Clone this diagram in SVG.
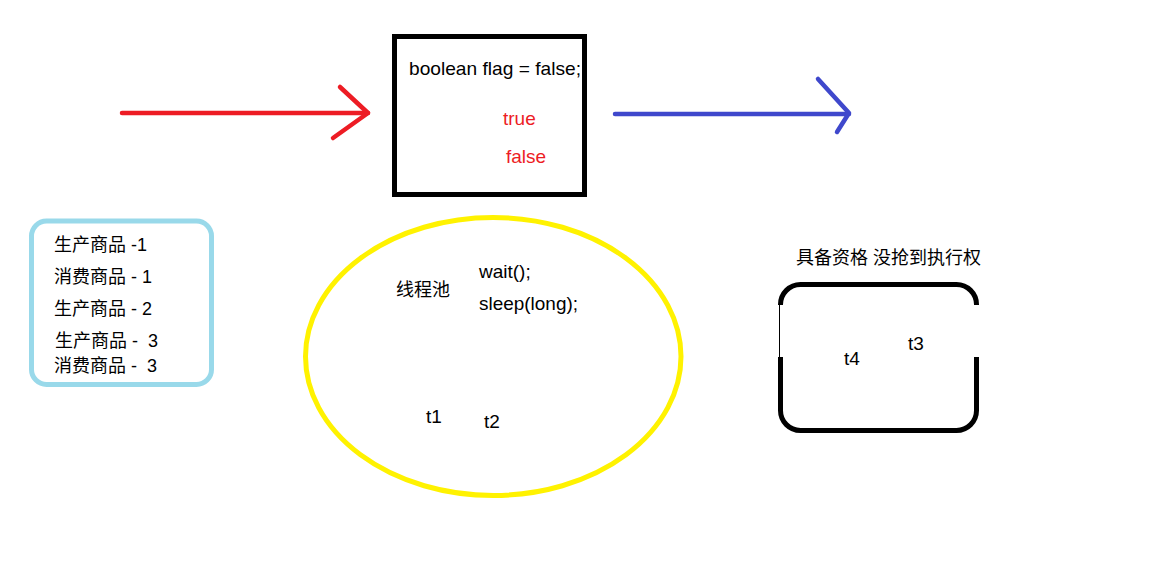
<svg xmlns="http://www.w3.org/2000/svg" width="1176" height="579" viewBox="0 0 1176 579">
<style>
text{font-family:"Liberation Sans","Noto Sans CJK SC",sans-serif;font-size:18px;fill:#000;white-space:pre}
.lat{font-size:19px}
.red{fill:#ED1C24}
.arrow{fill:none;stroke-width:4.5;stroke-linecap:round;stroke-linejoin:round}
</style>
<rect width="1176" height="579" fill="#fff"/>
<g id="connectors">
  <g id="red-arrow" class="arrow" stroke="#ED1C24">
    <line x1="122" y1="113" x2="368" y2="113"/>
    <polyline points="340,87 368,113 333,138"/>
  </g>
  <g id="blue-arrow" class="arrow" stroke="#3F48CC">
    <line x1="615" y1="114" x2="849" y2="114"/>
    <polyline points="818,79 849,113 837,132"/>
  </g>
</g>
<g id="flag-box">
  <rect x="394.5" y="36.5" width="190" height="158" fill="none" stroke="#000" stroke-width="5"/>
  <text class="lat" x="409" y="75" textLength="172" lengthAdjust="spacingAndGlyphs">boolean flag = false;</text>
  <line x1="583.5" y1="50" x2="583.5" y2="87" stroke="#000" stroke-width="1"/>
  <text class="lat red" x="503" y="125">true</text>
  <text class="lat red" x="506" y="163">false</text>
</g>
<g id="log-box">
  <rect x="31.5" y="221" width="180" height="163.5" rx="15" fill="none" stroke="#99D9EA" stroke-width="5"/>
  <text x="54" y="251">生产商品 -1</text>
  <text x="54" y="283">消费商品 - 1</text>
  <text x="54" y="315">生产商品 - 2</text>
  <text x="55" y="347">生产商品 -  3</text>
  <text x="54" y="372">消费商品 -  3</text>
</g>
<g id="thread-pool">
  <ellipse cx="493.25" cy="356.5" rx="187.75" ry="139" fill="none" stroke="#FFF200" stroke-width="5"/>
  <text x="396" y="296">线程池</text>
  <text class="lat" x="479" y="278">wait();</text>
  <text class="lat" x="479" y="310" textLength="99" lengthAdjust="spacingAndGlyphs">sleep(long);</text>
  <text class="lat" x="426" y="423">t1</text>
  <text class="lat" x="484" y="428">t2</text>
</g>
<g id="waiting-box">
  <text x="796" y="264">具备资格 没抢到执行权</text>
  <path d="M780.5,305 V304.5 A20,20 0 0 1 800.5,284.5 H956.5 A20,20 0 0 1 976.5,304.5 V305 M976.5,357 V410.5 A20,20 0 0 1 956.5,430.5 H800.5 A20,20 0 0 1 780.5,410.5 V357" fill="none" stroke="#000" stroke-width="5"/>
  <line x1="779.5" y1="305" x2="779.5" y2="357" stroke="#000" stroke-width="1"/>
  <text class="lat" x="844" y="365">t4</text>
  <text class="lat" x="908" y="350">t3</text>
</g>
</svg>
